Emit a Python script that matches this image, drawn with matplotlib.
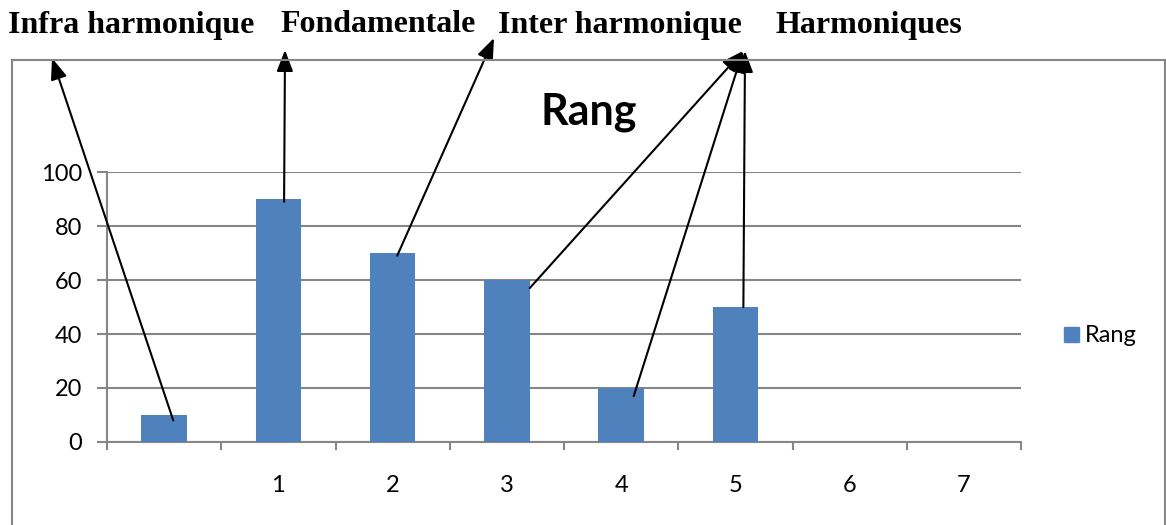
import matplotlib.pyplot as plt
from matplotlib.patches import Rectangle
from matplotlib.lines import Line2D

# Chart values
categories = ['', '1', '2', '3', '4', '5', '6', '7']
rang = [10, 90, 70, 60, 20, 50, 0, 0]
yticks = [0, 20, 40, 60, 80, 100]

# Labels above the chart and the bars each one points to
labels = ['Infra harmonique', 'Fondamentale', 'Inter harmonique', 'Harmoniques']
label_x = [8, 280, 498, 775]
# (bar index, label index)
links = [(0, 0), (1, 1), (2, 2), (3, 3), (4, 3), (5, 3)]

blue = '#4F81BD'
grey = '#868686'
W, H = 1166, 525

fig = plt.figure(figsize=(W / 100, H / 100), dpi=100)
ax = fig.add_axes([107 / W, 1 - 442 / H, (1021 - 107) / W, (442 - 172) / H])

x = range(len(categories))
bars = ax.bar(x, rang, width=0.4, color=blue, label='Rang', zorder=3)

ax.set_xlim(-0.5, len(categories) - 0.5)
ax.set_ylim(0, 100)
ax.set_yticks(yticks)
ax.yaxis.grid(True, color=grey, lw=1.5, zorder=0)
ax.set_xticks([i + 0.5 for i in range(-1, len(categories))])
ax.set_xticklabels([])
ax.set_xticks(list(x), minor=True)
ax.set_xticklabels(categories, minor=True)
ax.tick_params(axis='x', which='minor', length=0, pad=24, labelsize=17)
ax.tick_params(axis='x', which='major', length=6, width=1.5, color=grey)
ax.tick_params(axis='y', length=7, width=1.5, color=grey, labelsize=17, pad=11)
for lab in ax.get_xticklabels(minor=True) + ax.get_yticklabels():
    lab.set_family('Lato')
for s in ['top', 'right']:
    ax.spines[s].set_visible(False)
for s in ['left', 'bottom']:
    ax.spines[s].set_color(grey)
    ax.spines[s].set_linewidth(1.5)

# Outer chart frame
fig.add_artist(Line2D([12 / W, 1165 / W], [1 - 60 / H, 1 - 60 / H], color=grey, lw=1.5))
fig.add_artist(Line2D([12 / W, 12 / W], [0, 1 - 60 / H], color=grey, lw=1.5))
fig.add_artist(Line2D([1165 / W, 1165 / W], [0, 1 - 60 / H], color=grey, lw=1.5))

fig.text(589 / W, 1 - 112 / H, 'Rang', family='Lato', weight='bold', fontsize=31,
         ha='center', va='center')

# legend
fig.add_artist(Rectangle((1064 / W, 1 - 342 / H), 15 / W, 15 / H, color=blue))
fig.text(1085 / W, 1 - 335 / H, 'Rang', family='Lato', fontsize=17, va='center')

for i, t in enumerate(labels):
    fig.text(label_x[i] / W, 1 - 25 / H, t, family='Liberation Serif', weight='bold',
             fontsize=23, va='center')

# arrow tips below each label (pixel positions) and where they leave the bars
tips = {0: (52, 58), 1: (285, 50), 2: (494, 38), 3: (743, 51)}
starts = {0: (0.08, 8), 1: (1.05, 89), 2: (2.04, 69), 3: (3.2, 57), 4: (4.11, 17), 5: (5.07, 50)}
for b, l in links:
    tx, ty = tips[l]
    if b == 5:
        tx = 745
    ax.annotate('', xy=(tx / W, 1 - ty / H), xycoords='figure fraction',
                xytext=starts[b], textcoords='data',
                arrowprops=dict(arrowstyle='-|>,head_length=1.3,head_width=0.5',
                                color='black', lw=1.5, shrinkA=0, shrinkB=0),
                annotation_clip=False, zorder=5)

fig.savefig('out.png', dpi=100)
